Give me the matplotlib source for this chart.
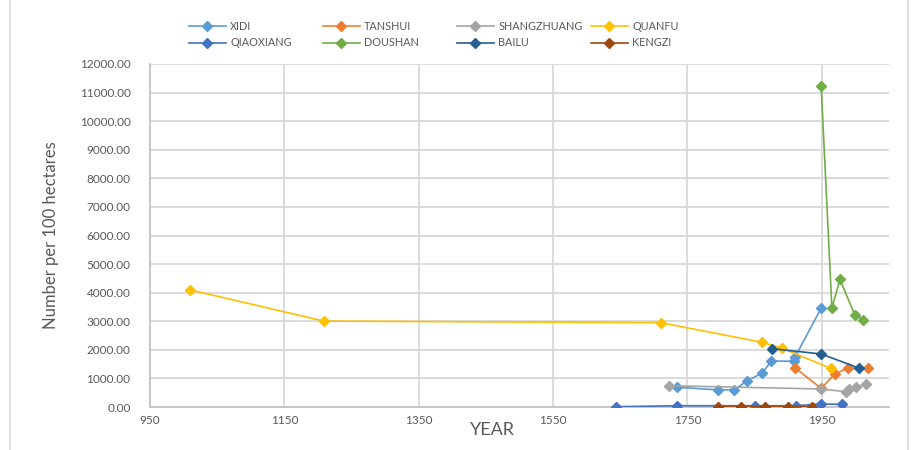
import matplotlib.pyplot as plt
from matplotlib.patches import Rectangle
from matplotlib.ticker import FormatStrFormatter

plt.rcParams['font.family'] = ['Lato', 'DejaVu Sans']

# data (year, number per 100 ha)
xidi_x = [1735, 1795, 1820, 1839, 1861, 1875, 1908, 1910, 1949]
xidi_y = [690, 600, 600, 920, 1180, 1610, 1600, 1740, 3460]
tanshui_x = [1910, 1949, 1969, 1989, 2018]
tanshui_y = [1375, 650, 1145, 1375, 1375]
shang_x = [1722, 1949, 1986, 1991, 2001, 2016]
shang_y = [745, 630, 535, 620, 690, 795]
quanfu_x = [1010, 1209, 1710, 1861, 1891, 1963]
quanfu_y = [4095, 3005, 2950, 2265, 2055, 1355]
qiao_x = [1643, 1735, 1850, 1911, 1949, 1980]
qiao_y = [10, 45, 45, 45, 105, 95]
doushan_x = [1949, 1965, 1977, 1999, 2012]
doushan_y = [11240, 3460, 4465, 3220, 3055]
bailu_x = [1876, 1949, 2005]
bailu_y = [2040, 1855, 1365]
kengzi_x = [1795, 1830, 1865, 1900, 1935]
kengzi_y = [10, 10, 10, 10, 15]

series = [
    ("XIDI", xidi_x, xidi_y, "#5B9BD5"),
    ("TANSHUI", tanshui_x, tanshui_y, "#ED7D31"),
    ("SHANGZHUANG", shang_x, shang_y, "#A5A5A5"),
    ("QUANFU", quanfu_x, quanfu_y, "#FFC000"),
    ("QIAOXIANG", qiao_x, qiao_y, "#4472C4"),
    ("DOUSHAN", doushan_x, doushan_y, "#70AD47"),
    ("BAILU", bailu_x, bailu_y, "#255E91"),
    ("KENGZI", kengzi_x, kengzi_y, "#9E480E"),
]

fig = plt.figure(figsize=(9.17, 4.5), dpi=100)
ax = fig.add_axes([150 / 917, 1 - 407 / 450, 739 / 917, 343 / 450])

handles = []
for name, xs, ys, c in series:
    h, = ax.plot(xs, ys, color=c, lw=1.2, marker='D', ms=5, mec=c, mfc=c,
                 label=name, zorder=3)
    handles.append(h)

ax.set_xlim(950, 2050)
ax.set_ylim(0, 12000)
ax.set_xticks(range(950, 2051, 200))
ax.set_yticks(range(0, 12001, 1000))
ax.yaxis.set_major_formatter(FormatStrFormatter('%.2f'))
ax.grid(True, color='#D9D9D9', lw=1.3)
ax.set_axisbelow(True)
for s in ['top', 'right']:
    ax.spines[s].set_visible(False)
for s in ['left', 'bottom']:
    ax.spines[s].set_color('#BFBFBF')
    ax.spines[s].set_linewidth(1.2)
ax.tick_params(axis='y', length=0, labelsize=8.5, colors='#595959', pad=14)
ax.tick_params(axis='x', length=0, labelsize=8.5, colors='#595959', pad=6)

ax.set_ylabel("Number per 100 hectares", fontsize=12, color='#595959')
ax.yaxis.set_label_coords(-0.123, 0.5)
ax.set_xlabel("YEAR", fontsize=13, color='#595959')
ax.xaxis.set_label_coords(0.463, -0.045)

# legend: four evenly spaced columns, two rows, like the original
for i in range(4):
    fig.legend([handles[i], handles[i + 4]],
               [series[i][0], series[i + 4][0]],
               loc='upper left',
               bbox_to_anchor=((189 + 134 * i) / 917, 1 - 21 / 450),
               frameon=False, borderpad=0, borderaxespad=0,
               fontsize=7.8, labelcolor='#595959', handlelength=3.4,
               labelspacing=0.5, handletextpad=0.4)

# light chart-area border
fig.patches.append(Rectangle((10 / 917, -0.05), 898 / 917, 1.06,
                             transform=fig.transFigure, fill=False,
                             ec='#D9D9D9', lw=1.2))

fig.savefig('out.png', dpi=100)
